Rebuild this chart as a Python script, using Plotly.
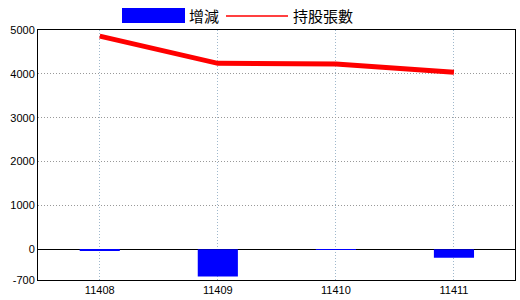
import plotly.graph_objects as go

categories = ["11408", "11409", "11410", "11411"]
change_values = [-40, -620, -15, -190]
holding_values = [4860, 4240, 4225, 4035]
y_tick_vals = [-700, 0, 1000, 2000, 3000, 4000, 5000]
y_tick_text = ["-700", "0", "1000", "2000", "3000", "4000", "5000"]
legend_labels = ["增減", "持股張數"]

fig = go.Figure()
fig.add_trace(go.Bar(x=categories, y=change_values, marker=dict(color="#0000FF", line=dict(width=0)),
                     width=0.34, name=legend_labels[0], showlegend=False))
fig.add_trace(go.Scatter(x=categories, y=holding_values, mode="lines", line=dict(color="#FF0000", width=5),
                         name=legend_labels[1], showlegend=False))

# legend drawn manually
fig.add_shape(type="rect", xref="paper", yref="paper", x0=(122-38)/477, x1=(185-38)/477,
              y0=(300-20-23)/250, y1=(300-20-8)/250, fillcolor="#0000FF", line=dict(width=0))
fig.add_shape(type="line", xref="paper", yref="paper", x0=(226-38)/477, x1=(288-38)/477,
              y0=(300-20-16)/250, y1=(300-20-16)/250, line=dict(color="#FF0000", width=1.5))
fig.add_annotation(xref="paper", yref="paper", x=(187-38)/477, y=(300-20-16)/250, text=legend_labels[0],
                   showarrow=False, xanchor="left", yanchor="middle",
                   font=dict(family="Noto Sans CJK TC", size=15, color="black"))
fig.add_annotation(xref="paper", yref="paper", x=(291-38)/477, y=(300-20-16)/250, text=legend_labels[1],
                   showarrow=False, xanchor="left", yanchor="middle",
                   font=dict(family="Noto Sans CJK TC", size=15, color="black"))

fig.update_layout(
    width=520, height=300,
    margin=dict(l=38, r=5, t=30, b=20),
    paper_bgcolor="white", plot_bgcolor="white",
    font=dict(family="Liberation Sans, DejaVu Sans", size=11, color="black"),
    bargap=0.5,
)
fig.update_xaxes(type="category", range=[-0.523, 3.517], showgrid=True, gridcolor="#9FB8CC",
                 griddash="1px,2px", gridwidth=1, showline=True, linecolor="black", linewidth=1, mirror=True,
                 ticks="", zeroline=False, tickfont=dict(size=11))
fig.update_yaxes(range=[-700, 5000], tickvals=y_tick_vals, ticktext=y_tick_text, showgrid=True,
                 gridcolor="#999999", griddash="1px,2px", gridwidth=1, showline=True, linecolor="black",
                 linewidth=1, mirror=True, ticks="", zeroline=True, zerolinecolor="black", zerolinewidth=1,
                 tickfont=dict(size=11))

fig.write_html("out.html")
